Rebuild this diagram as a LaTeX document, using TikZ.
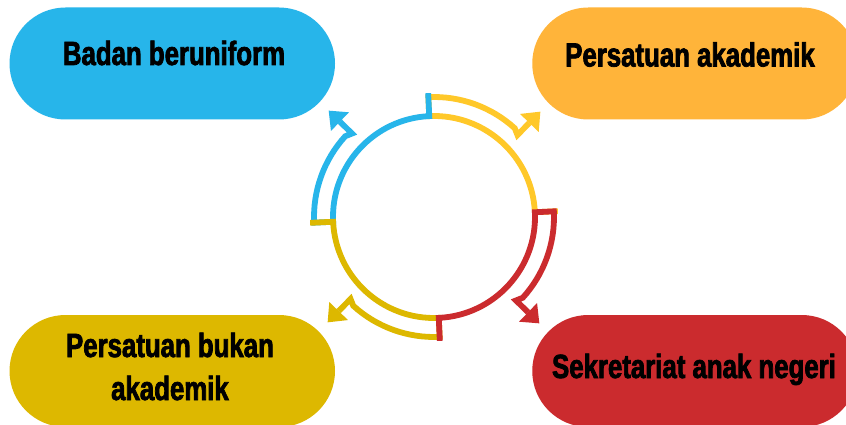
\documentclass[tikz,border=0pt]{standalone}
\usepackage{fontspec}
\usetikzlibrary{shapes.misc}
\newfontfamily\condfont{Liberation Sans}[FakeStretch=0.77,FakeBold=2.2]
\definecolor{cblue}{HTML}{27B5EA}
\definecolor{corange}{HTML}{FFB43A}
\definecolor{cgold}{HTML}{DDB800}
\definecolor{cred}{HTML}{CB2B2E}
\definecolor{cyel}{HTML}{FFC829}
\newcommand\ringarrow[2]{%
  \begin{scope}[rotate=#1]
    \draw[ring, draw=#2] (0:124) -- (0:101) arc[start angle=0, end angle=90, radius=101]
      -- (90:120) arc[start angle=90, end angle=45, radius=120]
      -- (41.8:117) -- (99.7,89.5);
    \fill[#2] (111.2,100.2) -- (90.8,98.9) -- (108.6,80.0) -- cycle;
  \end{scope}}
\begin{document}
\begin{tikzpicture}[x=1pt,y=-1pt,
  pill/.style={rounded rectangle, minimum width=325.5pt, minimum height=112pt, inner sep=0pt, draw=none},
  lbl/.style={font=\condfont\bfseries\fontsize{33.5}{43}\selectfont, text=black, inner sep=0pt, anchor=base, align=center},
  ring/.style={line width=5.8pt, miter limit=10}]
\clip (0,0) rectangle (846,425);
\fill[white] (0,0) rectangle (846,425);
\node[pill, fill=cblue] (pblue) at (172.25,63.5) {};
\node[pill, fill=corange] (porange) at (695,63.5) {};
\node[pill, fill=cgold] (pgold) at (172.25,371) {};
\node[pill, fill=cred] (pred) at (695,371) {};
\node[lbl] (tblue) at (174,65) {Badan beruniform};
\node[lbl] (torange) at (690,66.5) {Persatuan akademik};
\node[lbl] (tgold) at (170,400) {Persatuan bukan\\akademik};
\node[lbl] (tred) at (694,378) {Sekretariat anak negeri};
\begin{scope}[shift={(434,217)}, x=1pt, y=1pt, rotate=2.7]
  \ringarrow{0}{cyel}
  \ringarrow{90}{cblue}
  \ringarrow{180}{cgold}
  \ringarrow{-90}{cred}
\end{scope}
\end{tikzpicture}
\end{document}
